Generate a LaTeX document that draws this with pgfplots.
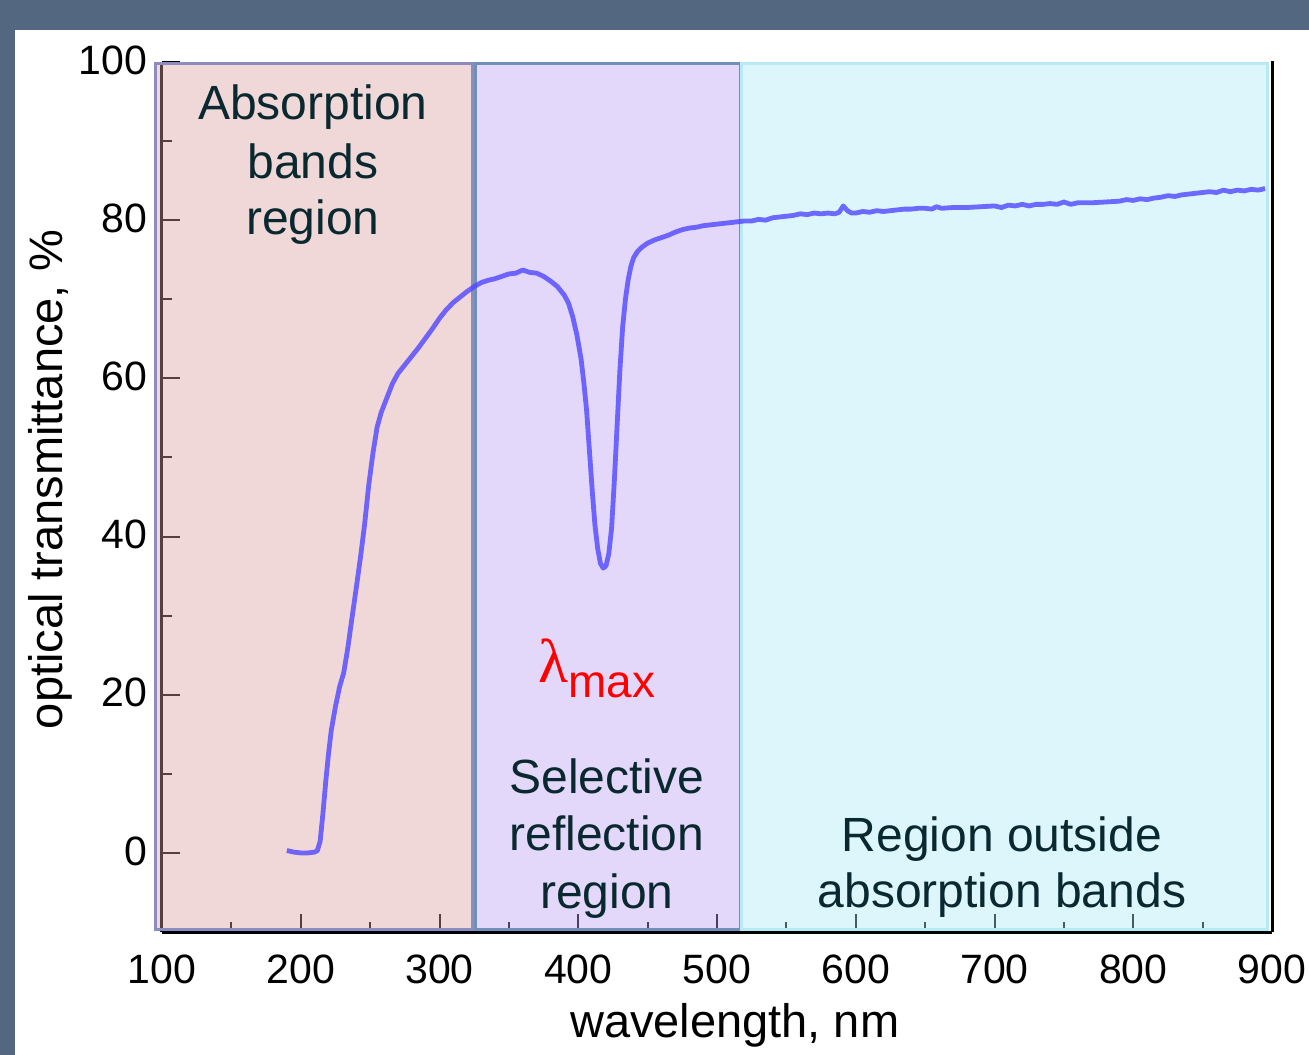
\documentclass[border=0pt]{standalone}
\usepackage{fontspec}
\setmainfont{Liberation Sans}
\newfontfamily\serifgreek{Liberation Serif}
\usepackage{pgfplots}
\pgfplotsset{compat=1.18}
\definecolor{frame}{RGB}{83,103,128}
\definecolor{pinkfill}{RGB}{218,158,158}
\definecolor{pinkdraw}{RGB}{140,140,192}
\definecolor{purpfill}{RGB}{185,158,243}
\definecolor{purpdraw}{RGB}{112,144,186}
\definecolor{cyanfill}{RGB}{168,233,248}
\definecolor{cyandraw}{RGB}{184,234,246}
\definecolor{curve}{RGB}{80,70,255}
\definecolor{txt}{RGB}{10,40,48}
\begin{document}
\begin{tikzpicture}
\fill[frame] (0,0) rectangle (654.5bp,527.5bp);
\fill[white] (7.5bp,0) rectangle (654.5bp,512.5bp);
\begin{axis}[
  at={(81bp,61.5bp)}, anchor=south west,
  scale only axis, width=555bp, height=435bp,
  xmin=100, xmax=900, ymin=-10, ymax=100,
  clip=false,
  axis x line*=bottom, axis y line*=left,
  axis line style={line width=1.5bp, black},
  xtick={100,200,...,900}, ytick={0,20,...,100},
  minor x tick num=1, minor y tick num=1,
  tick align=inside,
  major tick length=9bp, minor tick length=5bp,
  every tick/.style={line width=1bp, black},
  /pgf/number format/assume math mode=true,
  xticklabel style={font=\fontsize{20.5bp}{20.5bp}\selectfont, yshift=-8bp},
  yticklabel style={font=\fontsize{20.5bp}{20.5bp}\selectfont, xshift=-4bp, yshift=1bp},
  xlabel={wavelength, nm},
  ylabel={optical transmittance, \%},
  xlabel style={font=\fontsize{23.5bp}{23.5bp}\selectfont, at={(axis description cs:0.516,-0.107)}, anchor=center},
  ylabel style={font=\fontsize{23.5bp}{23.5bp}\selectfont, at={(axis description cs:-0.101,0.52)}, anchor=center},
]
\addplot[draw=pinkdraw, line width=1.5bp, fill=pinkfill, fill opacity=0.4] coordinates {(95,-9.65) (324,-9.65) (324,99.75) (95,99.75)} -- cycle;
\addplot[draw=purpdraw, line width=1.5bp, fill=purpfill, fill opacity=0.4] coordinates {(325.6,-9.65) (516.6,-9.65) (516.6,99.75) (325.6,99.75)} -- cycle;
\addplot[draw=cyandraw, line width=1.5bp, fill=cyanfill, fill opacity=0.4] coordinates {(517.4,-9.65) (897,-9.65) (897,99.75) (517.4,99.75)} -- cycle;
\draw[black, line width=1.5bp] (axis cs:900,-10) -- (axis cs:900,99.9) -- (axis cs:899,99.9);
\addplot[color=curve, line width=2.4bp, opacity=0.8, line join=round] coordinates {
(190,0.3) (195,0.1) (200,0) (205,0) (210,0.1) (212,0.3) (214,1.5) (216,5) (218,9) (220,12.5) (222,15.5) (225,18.5) (228,21) (231,22.8) (234,26) (237,29.8) (240,33.5) (243,37.3) (246,41.5) (249,46.5) (252,50.5) (255,53.8) (258,55.7) (262,57.5) (266,59.3) (270,60.6) (275,61.7) (280,62.8) (285,63.9) (290,65.1) (295,66.3) (300,67.6) (305,68.7) (310,69.6) (315,70.3) (320,71) (325,71.6) (330,72.1) (335,72.4) (340,72.6) (345,72.9) (350,73.2) (355,73.3) (360,73.7) (365,73.4) (370,73.3) (375,72.9) (380,72.3) (385,71.6) (390,70.5) (393,69.5) (396,67.8) (399,65.5) (402,62.5) (404,59.5) (406,56) (408,51) (410,46) (412,41.5) (414,38.5) (416,36.6) (418,36.0) (420,36.3) (422,37.8) (424,41) (426,47) (428,54) (430,61) (432,66.5) (434,70) (436,72.5) (438,74.2) (440,75.3) (443,76.1) (446,76.6) (450,77.1) (455,77.5) (460,77.8) (465,78.1) (470,78.5) (475,78.8) (480,79.0) (485,79.1) (490,79.3) (495,79.4) (500,79.5) (505,79.6) (510,79.7) (515,79.8)
(520,79.9) (525,79.9) (530,80.1) (535,80.0) (540,80.3) (545,80.4) (550,80.5) (555,80.6) (560,80.8) (565,80.7) (570,80.9) (575,80.8) (580,80.9) (585,80.8) (588,81.0) (591,81.8) (594,81.2) (597,80.9) (600,80.9) (605,81.1) (610,81.0) (615,81.2) (620,81.1) (625,81.2) (630,81.3) (635,81.4) (640,81.4) (645,81.5) (650,81.5) (655,81.4) (658,81.7) (662,81.5) (670,81.6) (680,81.6) (690,81.7) (700,81.8) (705,81.6) (710,81.9) (715,81.8) (720,82.0) (725,81.8) (730,82.0) (735,82.0) (740,82.1) (745,82.0) (750,82.3) (755,82.0) (760,82.2) (770,82.2) (780,82.3) (790,82.4) (795,82.6) (800,82.5) (805,82.7) (810,82.6) (815,82.8) (820,82.9) (825,83.1) (830,83.0) (835,83.2) (840,83.3) (845,83.4) (850,83.5) (855,83.6) (860,83.5) (865,83.8) (870,83.6) (875,83.8) (880,83.7) (885,83.9) (890,83.8) (895,84.0)
};
\begin{scope}[every node/.style={txt, inner sep=0, anchor=base, font=\fontsize{24bp}{29bp}\selectfont}]
\node at (axis cs:208.8,92.7) {Absorption};
\node at (axis cs:208.8,85.3) {bands};
\node at (axis cs:208.8,78.2) {region};
\node at (axis cs:420.7,7.57) {Selective};
\node at (axis cs:420.7,0.25) {reflection};
\node at (axis cs:420.7,-7.09) {region};
\node at (axis cs:705.4,0.16) {Region outside};
\node at (axis cs:705.4,-6.9) {absorption bands};
\end{scope}
\node[red, inner sep=0, anchor=base west] at (axis cs:371,21.56) {\fontsize{31bp}{31bp}\selectfont\serifgreek λ\fontsize{23bp}{23bp}\selectfont\rmfamily\raisebox{-7.5bp}{max}};
\end{axis}
\pgfresetboundingbox
\useasboundingbox (0,0) rectangle (654.5bp,527.5bp);
\end{tikzpicture}
\end{document}
